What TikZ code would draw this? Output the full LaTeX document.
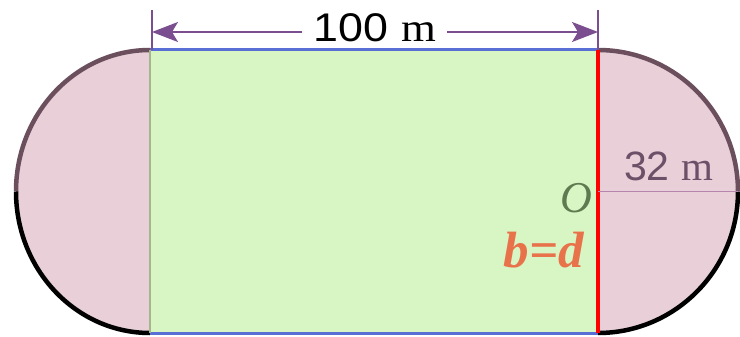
\documentclass[tikz,border=0pt]{standalone}
\usepackage{fontspec}
\usepackage{graphicx}
\setmainfont{Liberation Serif}
\newfontfamily\dimfont{Liberation Sans}
\usetikzlibrary{arrows.meta}
\definecolor{fieldgreen}{HTML}{D8F5C4}
\definecolor{endpink}{HTML}{E8CFD8}
\definecolor{rimmauve}{HTML}{6B4F5C}
\definecolor{sideblue}{HTML}{5A6FD6}
\definecolor{dimpurple}{HTML}{7B4F8F}
\definecolor{radpurple}{HTML}{B585AD}
\definecolor{labgrey}{HTML}{6B5068}
\definecolor{ogreen}{HTML}{5D7A50}
\definecolor{bdorange}{HTML}{E8734A}
\definecolor{edgesage}{HTML}{A8B48C}
\tikzset{
  rim/.style={line width=4.5pt},
  dimline/.style={dimpurple, line width=1.6pt},
  dimtip/.style={-{Stealth[length=26pt,width=20pt,inset=6pt]}}
}
\begin{document}
\begin{tikzpicture}[x=1pt,y=-1pt]
  \useasboundingbox (0,0) rectangle (740,337);
  \coordinate (tl) at (150,50);
  \coordinate (bl) at (150,333);
  \coordinate (tr) at (598,50);
  \coordinate (br) at (598,333);
  \coordinate (o) at (598,191.5);
  \coordinate (riml) at (16,191.5);
  \coordinate (rimr) at (738,191.5);
  % ends and field
  \fill[endpink] (tl) arc[start angle=270, end angle=90, x radius=134, y radius=141.5] -- cycle;
  \fill[endpink] (tr) arc[start angle=-90, end angle=90, x radius=140, y radius=141.5] -- cycle;
  \fill[fieldgreen] (tl) rectangle (br);
  % rim
  \draw[rim, rimmauve] (tl) arc[start angle=270, end angle=180, x radius=134, y radius=141.5];
  \draw[rim] (riml) arc[start angle=180, end angle=90, x radius=134, y radius=141.5];
  \draw[rim, rimmauve] (tr) arc[start angle=270, end angle=360, x radius=140, y radius=141.5];
  \draw[rim] (rimr) arc[start angle=0, end angle=90, x radius=140, y radius=141.5];
  % sides
  \draw[sideblue, line width=3pt] (tl) -- (tr);
  \draw[sideblue, line width=3pt] (bl) -- (br);
  \draw[edgesage, line width=2.5pt] (tl) -- (bl);
  \draw[red, line width=4pt] (tr) -- (br);
  \draw[radpurple, line width=1.2pt] (o) -- (rimr);
  % dimension
  \coordinate (dl) at (152,32);
  \coordinate (dr) at (598,32);
  \draw[dimline] (152,10) -- (152,50);
  \draw[dimline] (598,10) -- (598,50);
  \node[anchor=base, inner sep=0pt] (len) at (375,42)
    {\scalebox{1.12}[1]{\fontsize{40}{40}\selectfont\dimfont 100\ \rmfamily m}};
  \draw[dimline, dimtip] (302,32) -- (dl);
  \draw[dimline, dimtip] (447,32) -- (dr);
  % labels
  \node[labgrey, anchor=base west, inner sep=0pt] (rad) at (624,180)
    {\fontsize{41}{41}\selectfont\dimfont 32\ \rmfamily m};
  \node[ogreen, anchor=base east, inner sep=0pt] (olab) at (592,212)
    {\fontsize{44}{44}\selectfont\itshape O};
  \node[bdorange, anchor=base east, inner sep=0pt] (bd) at (584,267)
    {\fontsize{51}{51}\selectfont\bfseries\itshape b=d};
\end{tikzpicture}
\end{document}
